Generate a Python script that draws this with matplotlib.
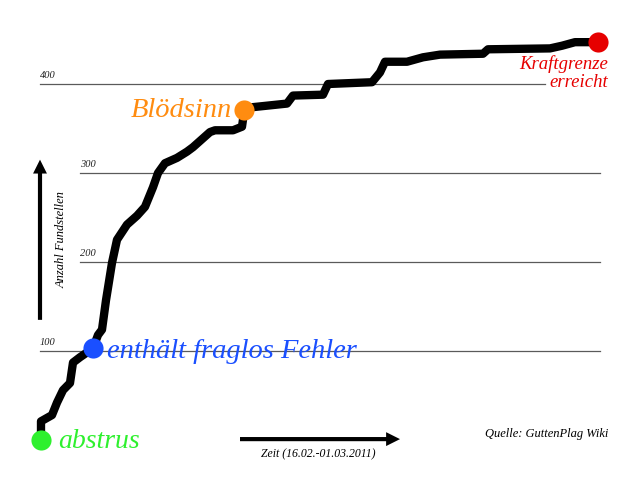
import matplotlib.pyplot as plt
from matplotlib.patches import FancyArrowPatch

# Zeit (arbitrary units along the x axis) and Anzahl Fundstellen
t = [1, 1, 12, 17, 23, 30, 33, 40, 53, 58, 62, 66, 72, 77, 87, 97, 105, 113,
     118, 125, 137, 147, 153, 170, 175, 193, 202, 203, 204, 213, 247, 253, 283,
     288, 332, 340, 345, 367, 383, 400, 443, 448, 510, 522, 535, 558]
fund = [0, 21, 28, 42, 56, 64, 87, 93, 103, 118, 124, 157, 199, 225, 242, 252,
        262, 284, 300, 311, 317, 324, 329, 346, 348, 348, 352, 360, 371, 374,
        378, 387, 388, 400, 402, 413, 425, 425, 430, 433, 434, 439, 440, 443,
        447, 447]

# milestones: (index into the series, label, colour)
milestones = [
    (0, "abstrus", "#2ef02e"),
    (8, "enthält fraglos Fehler", "#1a4fff"),
    (28, "Blödsinn", "#ff8c10"),
    (45, "Kraftgrenze\nerreicht", "#e60000"),
]

grid_vals = [100, 200, 300, 400]
grid_start = [0, 40, 40, 0]
grid_end = [560, 560, 560, 505]

SERIF = ["Liberation Serif", "DejaVu Serif"]

fig = plt.figure(figsize=(6.4, 4.8), dpi=100)
ax = fig.add_axes([0, 0, 1, 1])
ax.set_xlim(-40, 600)
ax.set_ylim(-44.94, 494.38)
ax.axis("off")

for v, x0, x1 in zip(grid_vals, grid_start, grid_end):
    ax.plot([x0, x1], [v, v], color="#5a5a5a", lw=0.9, zorder=1)
    ax.text(x0, v + 4, str(v), fontsize=7.5, style="italic", family=SERIF,
            ha="left", va="bottom", color="#222222")

ax.plot(t, fund, color="black", lw=6, solid_joinstyle="round",
        solid_capstyle="round", zorder=3)

for i, label, col in milestones:
    ax.plot(t[i], fund[i], "o", color=col, ms=14.5, mec="none", zorder=4)

i0 = milestones[0][0]
ax.text(t[i0] + 17, fund[i0] - 2, milestones[0][1], color=milestones[0][2],
        fontsize=20, style="italic", family=SERIF, ha="left", va="center")
i1 = milestones[1][0]
ax.text(t[i1] + 14, fund[i1] - 3, milestones[1][1], color=milestones[1][2],
        fontsize=20.5, style="italic", family=SERIF, ha="left", va="center",
        zorder=2)
i2 = milestones[2][0]
ax.text(t[i2] - 12, fund[i2] - 1, milestones[2][1], color=milestones[2][2],
        fontsize=20.5, style="italic", family=SERIF, ha="right", va="center")
i3 = milestones[3][0]
ax.text(t[i3] + 10, fund[i3] - 15, milestones[3][1], color=milestones[3][2],
        fontsize=13.5, style="italic", family=SERIF, ha="right", va="top",
        linespacing=1.05, zorder=2)

# axis arrows
arr_style = "simple,tail_width=0.3,head_width=1.0,head_length=1.0"
ax.add_patch(FancyArrowPatch((0, 135), (0, 315), arrowstyle=arr_style,
                             mutation_scale=10, color="black", lw=0,
                             shrinkA=0, shrinkB=0))
ax.add_patch(FancyArrowPatch((200, 1), (360, 1), arrowstyle=arr_style,
                             mutation_scale=10, color="black", lw=0,
                             shrinkA=0, shrinkB=0))

ax.text(22, 225, "Anzahl Fundstellen", rotation=90, fontsize=9,
        style="italic", family=SERIF, ha="center", va="center")
ax.text(278, -16, "Zeit (16.02.-01.03.2011)", fontsize=8.5,
        style="italic", family=SERIF, ha="center", va="center")
ax.text(507, 7, "Quelle: GuttenPlag Wiki", fontsize=9,
        style="italic", family=SERIF, ha="center", va="center")

fig.savefig("out.png", dpi=100)
